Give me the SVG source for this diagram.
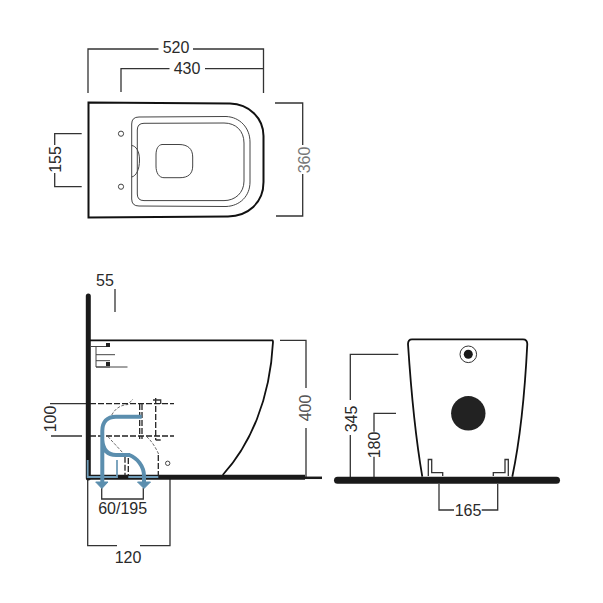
<svg xmlns="http://www.w3.org/2000/svg" width="603" height="603" viewBox="0 0 603 603">
<style>
text{font-family:"Liberation Sans",Arial,sans-serif;font-size:16px;fill:#2a2a2a;text-anchor:middle}
.d{fill:none;stroke:#333;stroke-width:1.3}
.o{fill:none;stroke:#111;stroke-width:1.8}
.t{fill:none;stroke:#444;stroke-width:1}
.h{fill:none;stroke:#222;stroke-width:1.3;stroke-dasharray:6 2}
.f{fill:none;stroke:#444;stroke-width:.8;stroke-dasharray:3 1.5}
.b{fill:none;stroke:#5b8eae;stroke-width:4}
.b2{fill:none;stroke:#6f9cb8;stroke-width:1.8}
</style>
<rect width="603" height="603" fill="#fff"/>
<g id="connectors">
<path class="d" d="M88 93V49H158.500M193 49H263.500V93"/>
<path class="d" d="M121 92V68.700H169.500M205 68.700H263"/>
<path class="d" d="M81.700 133.700H54.700V145M54.700 173V186.700H81.700"/>
<path class="d" d="M275 103H302.700V145M302.700 174V216H276"/>
<path class="d" d="M115 289V312"/>
<path class="d" d="M280 340.300H306V388M306 428V477"/>
<path class="d" d="M50 403.700H88M51 436H82"/>
<path class="d" d="M101.700 488V499H143.300V488"/>
<path class="d" stroke-width="1.600" d="M87.700 479V545.700H117M140 545.700H170V479"/>
<path class="d" d="M398.300 354.300H350.300V400M350.300 435V477"/>
<path class="d" d="M396 413.300H374V431.700M374 456.700V477"/>
<path class="d" d="M439 484V510H454M481.700 510H497.700V484"/>
</g>
<g id="top-view">
<path d="M88.500 102.500L230 103.500C249 104 263.500 118 263.500 136V182C263.500 203 248 216 228 216.500L88.500 217.500Z" fill="none" stroke="#111" stroke-width="2"/>
<path class="t" d="M131.700 124Q131.700 117 139 117L226 116.500C240 117 250 128 250 142V182C250 196 240 206 226 206.500L139 206Q131.700 206 131.700 199Z"/>
<path class="t" d="M137.300 130Q137.300 123.300 144 123.300L224 123C236 123 244 131 244 143V181C244 193 235 200.600 224 200.600L144 200.600Q137.300 200.600 137.300 194Z"/>
<path class="t" d="M162 144.500H179C188 144.500 192.700 149 192.700 157V166C192.700 174 188 177.700 180 177.700H164C159 177.700 156 173 156 166V155C156 149 158 145 162 144.500Z"/>
<path class="t" d="M131.700 145.500C136 146 139.500 151 139.500 160C139.500 170 136 176 131.700 177"/>
<circle class="t" cx="121" cy="133.700" r="2.600"/>
<circle class="t" cx="121" cy="186.700" r="2.600"/>
</g>
<g id="side-view">
<path d="M88.300 296V478" stroke="#1a1a1a" stroke-width="5" stroke-linecap="round" fill="none"/>
<path d="M88 477.200H305" stroke="#1a1a1a" stroke-width="5" fill="none"/>
<path d="M305 477.800H322" stroke="#1a1a1a" stroke-width="2.500" fill="none"/>
<path class="o" d="M90 340.300H272.500Q273 341 273 342C270 400 250 445 222.700 475"/>
<path class="t" d="M91 346.500H110M96 346.500V367H110M96 354.700H115M96 360.700H110M96 367H127.500"/>
<rect x="106" y="343" width="4" height="4" fill="#222"/>
<rect x="106" y="362" width="4" height="4" fill="#222"/>
<path class="h" d="M90 403.700H174M90 436H174"/>
<path class="h" stroke-width="1" d="M142 404V439M139.700 404V439M155.700 398V440"/>
<path class="d" stroke-width="1" d="M153 400H160.700V404M155.700 440H160.700"/>
<path class="f" d="M111.700 415C115 409 120 405 128 404.500L133 399"/>
<path class="f" d="M108 436.700L123 453M146.700 436.700C152 441 157 450 159 455"/>
<path class="h" stroke-width="1.100" stroke="#555" d="M158.300 455V476M125 456.700V476M128.300 458V476"/>
<path class="b2" d="M87.700 460V477H117V460M128.300 477H158.300"/>
<path class="b" d="M141.700 416.700H116C107 416.700 102.300 422 102.300 431V483M102.300 440C103 450 108 455 116 455H129.300C137 458 144 466 144 476V483"/>
<path d="M95.700 482H108L101.900 488.500ZM137.500 482H150.500L144 488.500Z" fill="#5b8eae" stroke="#5b8eae" stroke-width="1"/>
<circle class="t" cx="167.700" cy="463.300" r="2.200"/>
</g>
<g id="front-view">
<path class="o" d="M422.300 476.700C416 440 411 390 408 344Q408 339.300 412 339.300H523Q527.300 339.300 527.300 344C525 390 520 440 512.300 476.700"/>
<circle cx="468.300" cy="354.300" r="8.300" fill="none" stroke="#333" stroke-width="1"/>
<circle cx="468.300" cy="354.300" r="4.500" fill="#1a1a1a"/>
<circle cx="468.300" cy="413.300" r="17.200" fill="#222"/>
<path d="M337.500 480.300H556.500" stroke="#1a1a1a" stroke-width="7" stroke-linecap="round" fill="none"/>
<path class="d" d="M428.300 476V459.500H431.700V472.700H442.700V476M508.300 476V459.500H505V472.700H493.300V476"/>
</g>
<g id="labels">
<text x="176" y="52.500">520</text>
<text x="187" y="74">430</text>
<text transform="translate(60.500,159.500) rotate(-90)">155</text>
<text transform="translate(309.500,160) rotate(-90)" style="fill:#777">360</text>
<text x="105" y="286">55</text>
<text transform="translate(311,408) rotate(-90)" style="fill:#555">400</text>
<text transform="translate(56,419) rotate(-90)">100</text>
<text x="122.700" y="514">60/195</text>
<text x="128" y="563">120</text>
<text transform="translate(356.500,419) rotate(-90)">345</text>
<text transform="translate(380,445) rotate(-90)">180</text>
<text x="468" y="516">165</text>
</g>
</svg>
